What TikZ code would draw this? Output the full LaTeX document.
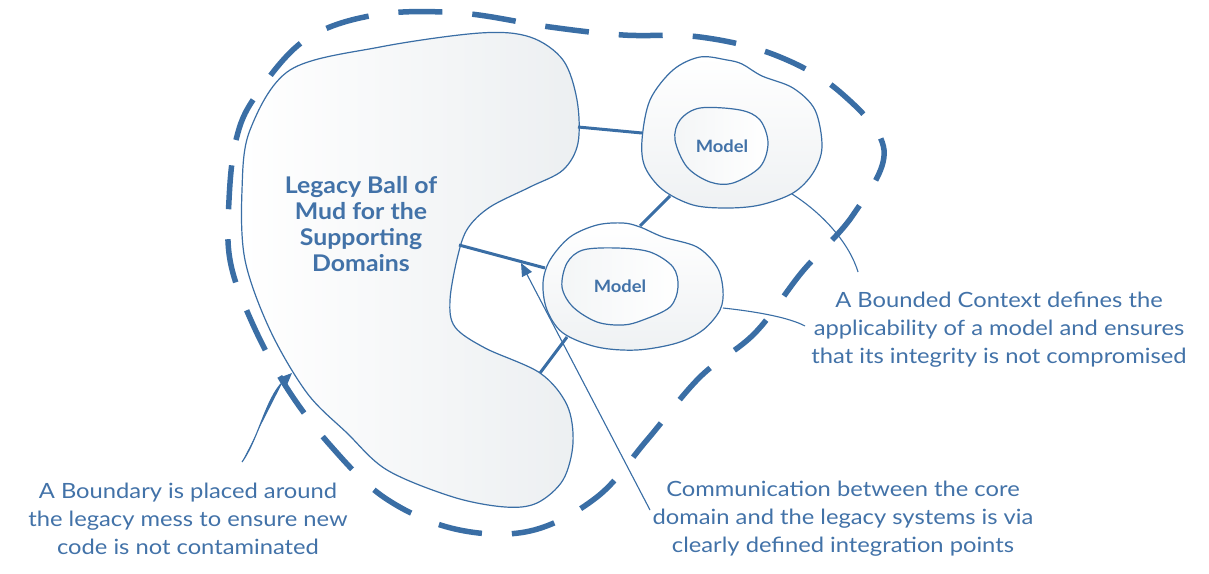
\documentclass[tikz,border=0pt]{standalone}
\usepackage{fontspec}
\setmainfont{Lato}
\newfontfamily\notefont{Lato}[FakeStretch=1.13]
\newfontfamily\mudfont{Lato}[FakeStretch=1.08]
\usetikzlibrary{arrows.meta}
\definecolor{dddblue}{RGB}{58,110,165}
\definecolor{txtblue}{RGB}{66,114,168}
\definecolor{mudgray}{RGB}{236,239,241}
\tikzset{
  outline/.style={draw=dddblue, line width=1.2pt},
  mudfill/.style={left color=white, right color=mudgray},
  bcfill/.style={top color=white, bottom color=mudgray!85},
  modelfill/.style={left color=mudgray!60, right color=white},
  link/.style={draw=dddblue, line width=3pt},
  boundary/.style={draw=dddblue, line width=5.5pt, dash pattern=on 44pt off 30pt},
  note/.style={draw=dddblue, line width=1.1pt},
  tip/.style={-{Triangle[length=13pt,width=11pt]}},
  notetext/.style={text=txtblue, font=\notefont\fontsize{21}{28}\selectfont, align=center},
  mudtext/.style={text=txtblue, font=\mudfont\fontsize{23}{26.3}\selectfont\bfseries, align=center},
  modeltext/.style={text=txtblue, font=\mudfont\fontsize{17}{20}\selectfont\bfseries},
}
\begin{document}
\begin{tikzpicture}[x=1pt,y=-1pt]
\useasboundingbox (0,0) rectangle (1209,573);

% boundary
\draw[boundary] plot[smooth cycle, tension=0.6] coordinates {
  (229,200) (236,140) (255,97) (305,40) (375,15) (460,13) (550,27) (623,35)
  (700,37) (775,55) (840,92) (884,150) (853,215) (802,272) (755,333)
  (700,377) (647,440) (597,497) (530,531) (455,529) (385,498) (330,445)
  (285,385) (250,318) (230,260)};

% legacy ball of mud
\path[outline, mudfill] plot[smooth cycle, tension=0.55] coordinates {
  (290,70) (380,47) (480,33) (530,37) (563,60) (577,100) (578,143) (563,170)
  (530,187) (490,207) (468,228) (458,255) (450,300) (455,327) (485,348)
  (540,373) (567,405) (573,443) (563,480) (537,503) (505,507) (453,497)
  (387,470) (347,433) (307,393) (270,330) (245,260) (242,190) (250,130)};

% bounded context 1
\path[outline, bcfill] plot[smooth cycle, tension=0.55] coordinates {
  (642,140) (650,100) (673,70) (700,57) (727,60) (742,64) (762,76) (793,88)
  (815,110) (822,147) (813,173) (793,193) (760,205) (727,208) (693,205)
  (663,190) (645,167)};
\path[outline, modelfill] plot[smooth cycle, tension=0.55] coordinates {
  (675,140) (680,120) (700,108) (740,110) (760,120) (768,143) (760,167)
  (733,183) (710,182) (687,167)};

% bounded context 2
\path[outline, bcfill] plot[smooth cycle, tension=0.55] coordinates {
  (543,283) (550,260) (570,237) (597,225) (623,223) (640,227) (663,237)
  (697,247) (717,267) (723,290) (720,310) (703,330) (677,343) (637,350)
  (597,347) (563,333) (547,310)};
\path[outline, modelfill] plot[smooth cycle, tension=0.55] coordinates {
  (562,287) (567,263) (583,250) (617,248) (650,252) (673,267) (678,287)
  (670,307) (643,320) (623,325) (597,322) (573,307)};

% texts
\node[mudtext] (mud) at (361,224) {Legacy Ball of\\Mud for the\\Supporting\\Domains};
\node[modeltext] (model1) at (722,146) {Model};
\node[modeltext] (model2) at (620,286) {Model};
\node[notetext] (bctext) at (999,330) {A Bounded Context defines the\\applicability of a model and ensures\\that its integrity is not compromised};
\node[notetext] (bndtext) at (188,519) {A Boundary is placed around\\the legacy mess to ensure new\\code is not contaminated};
\node[notetext] (commtext) at (843,519) {Communication between the core\\domain and the legacy systems is via\\clearly defined integration points};

% connection points
\coordinate (mudE) at (578,127);
\coordinate (bc1W) at (642,133);
\coordinate (bc1S) at (670,196);
\coordinate (bc2N) at (640,226);
\coordinate (mudM) at (459,245);
\coordinate (bc2W) at (545,268);
\coordinate (bc2SW) at (567,337);
\coordinate (mudS) at (540,373);

\draw[link] (mudE) -- (bc1W);
\draw[link] (bc1S) -- (bc2N);
\draw[link] (mudM) -- (bc2W);
\draw[link] (bc2SW) -- (mudS);

% annotation lines
\coordinate (commEnd) at (650,510);
\coordinate (commTip) at (521,263);
\draw[note, tip, fill=dddblue] (commEnd) -- (commTip);

\coordinate (bndEnd) at (242,462);
\coordinate (bndTip) at (292,373);
\draw[note, tip, fill=dddblue] (bndEnd) .. controls (258,440) and (266,398) .. (bndTip);

\coordinate (bc1Note) at (792,194);
\coordinate (bcNoteEnd1) at (858,272);
\draw[note] (bc1Note) .. controls (825,215) and (850,245) .. (bcNoteEnd1);
\coordinate (bc2Note) at (723,308);
\coordinate (bcNoteEnd2) at (805,326);
\draw[note] (bc2Note) .. controls (760,312) and (790,318) .. (bcNoteEnd2);
\end{tikzpicture}
\end{document}
